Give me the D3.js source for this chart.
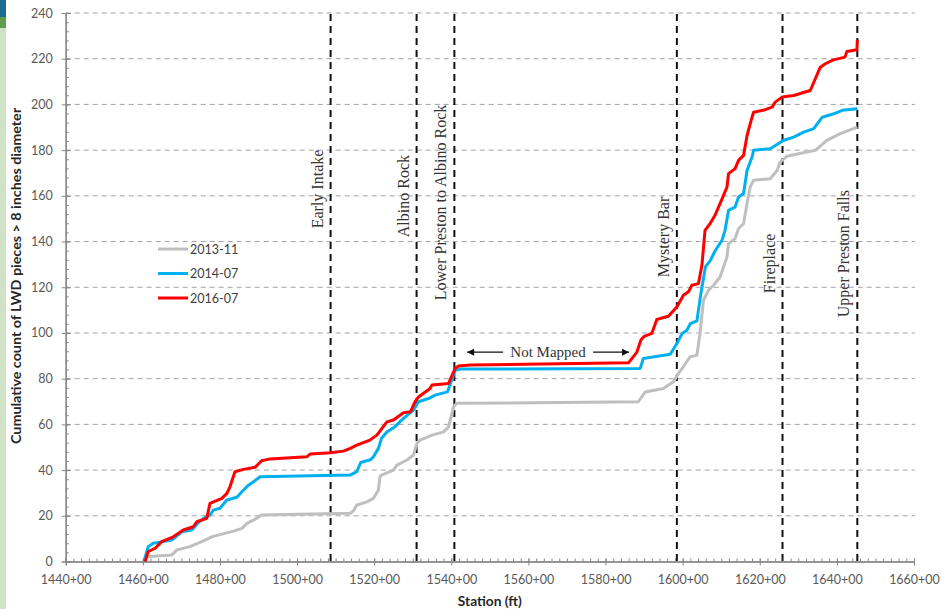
<!DOCTYPE html>
<html>
<head>
<meta charset="utf-8">
<script src="https://cdn.jsdelivr.net/npm/d3@7"></script>
<style>
  body { margin: 0; background: #fff; }
  svg { display: block; }
</style>
</head>
<body>
<svg id="chart" width="941" height="609"></svg>
<script>
// Cumulative LWD counts along the river, one survey per series
const seriesNames = ["2013-11", "2014-07", "2016-07"];
const seriesColors = ["#bfbfbf", "#00b0f0", "#ff0000"];

const stations2013 = [1460.3,1461.0,1467.5,1468.8,1472.2,1475.3,1477.9,1480.5,1483.5,1485.7,1487.0,1488.7,1490.8,1513.8,1514.6,1515.5,1518.1,1519.8,1521.1,1521.5,1521.9,1525.0,1525.9,1528.5,1530.2,1531.1,1531.9,1535.0,1538.0,1539.3,1540.6,1541.4,1588.5,1590.3,1595.0,1597.6,1598.9,1600.2,1601.9,1603.7,1604.5,1605.4,1606.7,1608.0,1609.7,1611.5,1611.9,1613.6,1614.5,1615.8,1616.7,1617.5,1618.4,1622.7,1624.5,1625.3,1627.0,1632.2,1634.4,1637.4,1640.9,1645.3];
const counts2013 = [0,2.1,2.8,5.0,6.5,8.7,10.8,12.0,13.3,14.5,16.7,18.1,20.3,21.1,22.1,24.7,26.1,27.6,31.3,37.1,37.8,40.0,42.2,44.4,46.6,51.7,53.1,55.3,56.7,58.9,67.7,69.2,69.9,74.2,75.7,78.6,82.3,85.2,89.5,90.3,99.8,114.3,118.7,120.9,124.5,133.2,139.1,141.3,145.7,147.8,156.6,163.8,166.8,167.5,171.1,174.8,177.3,179.2,179.9,184.3,187.2,190.1];

const stations2014 = [1460.3,1461.4,1462.7,1465.3,1467.5,1470.1,1472.7,1474.4,1476.1,1477.4,1478.3,1480.0,1481.8,1484.4,1485.7,1487.4,1488.7,1490.4,1513.8,1515.5,1516.5,1519.0,1519.8,1521.1,1521.9,1523.3,1525.4,1527.6,1530.2,1531.5,1534.1,1535.8,1539.0,1540.1,1541.0,1542.3,1589.0,1589.8,1596.8,1598.5,1599.9,1601.1,1602.0,1603.7,1604.6,1605.9,1607.2,1608.5,1610.2,1611.0,1611.9,1613.6,1614.5,1615.8,1616.7,1618.0,1618.4,1622.7,1626.2,1628.8,1631.4,1634.0,1636.2,1639.2,1641.4,1645.3];
const counts2014 = [0,6.5,8.0,8.7,9.4,13.0,13.8,17.0,19.3,20.3,22.5,23.3,26.9,28.1,30.5,33.4,34.9,37.1,37.8,39.3,43.3,44.5,45.8,49.5,53.9,56.7,59.0,62.6,66.2,69.9,71.3,72.8,74.2,79.3,83.7,84.2,84.5,88.8,90.7,95.4,99.8,101.2,104.1,105.3,115.8,128.9,131.8,136.2,140.5,144.9,153.7,155.1,159.5,161.0,171.1,177.0,179.9,180.6,184.3,185.7,187.9,189.4,194.4,195.9,197.4,198.1];

const stations2016 = [1460.6,1461.4,1463.2,1464.9,1467.9,1470.5,1473.1,1474.0,1476.6,1477.4,1480.5,1481.8,1482.6,1483.9,1486.1,1489.1,1490.8,1493.0,1502.5,1503.4,1508.6,1512.0,1513.8,1515.5,1518.9,1520.7,1523.3,1525.0,1527.6,1529.4,1530.6,1531.5,1534.5,1535.0,1539.3,1541.0,1541.8,1545.0,1586.0,1588.1,1589.2,1590.0,1592.0,1593.3,1596.3,1598.5,1600.2,1601.5,1602.4,1604.1,1605.0,1605.8,1607.1,1608.4,1609.7,1611.5,1611.9,1613.6,1614.5,1615.8,1616.7,1618.0,1618.4,1621.4,1623.2,1624.0,1625.8,1628.8,1633.1,1635.7,1637.0,1639.1,1642.1,1642.6,1645.2,1645.3];
const counts2016 = [0,4.3,5.8,8.7,10.8,13.8,15.2,17.4,18.9,25.4,27.6,29.8,32.7,39.3,40.3,41.2,44.1,44.9,45.8,47.0,47.6,48.3,49.5,50.9,53.1,55.3,61.1,61.9,65.1,65.5,69.9,72.0,75.7,77.2,77.9,84.5,85.5,86.0,87.0,91.5,97.0,98.5,99.8,105.9,107.3,111.4,116.5,118.0,120.9,121.6,129.6,144.9,147.8,151.5,156.6,163.8,169.7,171.9,175.5,177.7,186.4,194.4,196.6,197.7,198.8,201.0,203.2,203.9,206.1,216.3,217.8,219.5,220.7,223.2,223.9,228.3];

// Axis ticks
const xTicks = d3.range(1440, 1661, 20);
const xMinorTicks = d3.range(1440, 1661, 2);
const yTicks = d3.range(0, 241, 20);
const yMinorTicks = d3.range(0, 241, 4);

// Named reaches marked along the river, with where each name starts (count units)
const markerNames = ["Early Intake", "Albino Rock", "Lower Preston to Albino Rock", "Mystery Bar", "Fireplace", "Upper Preston Falls"];
const markerStations = [1508.7, 1531.0, 1540.8, 1598.5, 1625.9, 1645.3];
const markerLabelStart = [145.8, 141.9, 114.3, 124.4, 117.4, 106.9];

// Unmapped stretch
const gapLabel = "Not Mapped";
const gapStart = 1544.1, gapEnd = 1586.1, gapLevel = 91.6;

const svg = d3.select("#chart");

// Slide edge decoration
svg.append("rect").attr("x", 0).attr("y", 0).attr("width", 6).attr("height", 609).attr("fill", "#cfe2c6");
svg.append("rect").attr("x", 0).attr("y", 0).attr("width", 6).attr("height", 17).attr("fill", "#1d6b93");
svg.append("rect").attr("x", 0).attr("y", 17).attr("width", 6).attr("height", 11).attr("fill", "#5d9f4c");

const x = d3.scaleLinear().domain([1440, 1660]).range([65.7, 914]);
const y = d3.scaleLinear().domain([0, 240]).range([561.5, 13]);

const labelFont = "Lato, 'Open Sans', sans-serif";
const serifFont = "'Liberation Serif', 'DejaVu Serif', serif";

// Horizontal grid
svg.append("g")
  .selectAll("line")
  .data(yTicks.filter(d => d > 0))
  .join("line")
  .attr("x1", x(1440)).attr("x2", x(1660) + 1)
  .attr("y1", d => y(d)).attr("y2", d => y(d))
  .attr("stroke", "#a3a3a3").attr("stroke-width", 1)
  .attr("stroke-dasharray", "5,4");

// Reach markers
svg.append("g")
  .selectAll("line")
  .data(markerStations)
  .join("line")
  .attr("x1", d => x(d)).attr("x2", d => x(d))
  .attr("y1", y(240) + 1).attr("y2", y(0))
  .attr("stroke", "#111").attr("stroke-width", 2)
  .attr("stroke-dasharray", "7,5");

svg.append("g")
  .selectAll("text")
  .data(markerNames)
  .join("text")
  .attr("transform", (d, i) => `translate(${x(markerStations[i]) - 8},${y(markerLabelStart[i])}) rotate(-90)`)
  .attr("font-family", serifFont)
  .attr("font-size", 16)
  .attr("fill", "#333")
  .text(d => d);

// Axes
const xAxisG = svg.append("g").attr("transform", `translate(0,${y(0)})`);
xAxisG.call(d3.axisBottom(x).tickValues(xMinorTicks).tickSize(-3).tickFormat(""));
xAxisG.append("g").call(d3.axisBottom(x).tickValues(xTicks).tickSize(4).tickPadding(10)
  .tickFormat(d => `${d}+00`));
xAxisG.append("g").call(d3.axisTop(x).tickValues(xTicks).tickSize(3).tickFormat(""));

const yAxisG = svg.append("g").attr("transform", `translate(${x(1440)},0)`);
yAxisG.call(d3.axisRight(y).tickValues(yMinorTicks).tickSize(3).tickFormat(""));
yAxisG.append("g").call(d3.axisLeft(y).tickValues(yTicks).tickSize(4).tickPadding(9));
yAxisG.append("g").call(d3.axisRight(y).tickValues(yTicks).tickSize(5).tickFormat(""));

svg.selectAll(".domain").attr("stroke", "#868686");
svg.selectAll(".tick line").attr("stroke", "#868686");
svg.selectAll(".tick text")
  .attr("font-family", labelFont)
  .attr("font-size", 12.5)
  .attr("fill", "#595959");

// Series
const seriesData = [
  d3.zip(stations2013, counts2013),
  d3.zip(stations2014, counts2014),
  d3.zip(stations2016, counts2016)
];
const line = d3.line().x(d => x(d[0])).y(d => y(d[1]));
svg.append("g")
  .selectAll("path")
  .data(seriesData)
  .join("path")
  .attr("d", line)
  .attr("fill", "none")
  .attr("stroke", (d, i) => seriesColors[i])
  .attr("stroke-width", 3)
  .attr("stroke-linejoin", "round");

// Not Mapped annotation
const defs = svg.append("defs");
defs.append("marker")
  .attr("id", "arrowhead")
  .attr("viewBox", "0 0 10 10")
  .attr("refX", 10).attr("refY", 5)
  .attr("markerWidth", 10).attr("markerHeight", 7)
  .attr("markerUnits", "userSpaceOnUse")
  .attr("orient", "auto")
  .append("path").attr("d", "M0,0 L10,5 L0,10 Z").attr("fill", "#111");

const gapMid = (gapStart + gapEnd) / 2;
svg.append("line")
  .attr("x1", x(gapMid) - 45).attr("x2", x(gapStart))
  .attr("y1", y(gapLevel)).attr("y2", y(gapLevel))
  .attr("stroke", "#111").attr("stroke-width", 1.3)
  .attr("marker-end", "url(#arrowhead)");
svg.append("line")
  .attr("x1", x(gapMid) + 45).attr("x2", x(gapEnd))
  .attr("y1", y(gapLevel)).attr("y2", y(gapLevel))
  .attr("stroke", "#111").attr("stroke-width", 1.3)
  .attr("marker-end", "url(#arrowhead)");
svg.append("text")
  .attr("x", x(gapMid)).attr("y", y(gapLevel) + 5)
  .attr("text-anchor", "middle")
  .attr("font-family", serifFont)
  .attr("font-size", 15)
  .attr("fill", "#333")
  .text(gapLabel);

// Legend
const legend = svg.append("g").attr("transform", "translate(158,249)");
seriesNames.forEach((name, i) => {
  const g = legend.append("g").attr("transform", `translate(0,${i * 24.5})`);
  g.append("line").attr("x1", 0).attr("x2", 30).attr("y1", 0).attr("y2", 0)
    .attr("stroke", seriesColors[i]).attr("stroke-width", 3);
  g.append("text").attr("x", 32).attr("y", 4.5)
    .attr("font-family", labelFont).attr("font-size", 12.5).attr("fill", "#404040")
    .text(name);
});

// Axis titles
svg.append("text")
  .attr("transform", `translate(21,276) rotate(-90)`)
  .attr("text-anchor", "middle")
  .attr("font-family", labelFont)
  .attr("font-weight", "bold")
  .attr("font-size", 12.5)
  .attr("fill", "#262626")
  .attr("textLength", 336)
  .attr("lengthAdjust", "spacingAndGlyphs")
  .text("Cumulative count of LWD pieces > 8 inches diameter");

svg.append("text")
  .attr("x", (x(1440) + x(1660)) / 2)
  .attr("y", 606)
  .attr("text-anchor", "middle")
  .attr("font-family", labelFont)
  .attr("font-weight", "bold")
  .attr("font-size", 13)
  .attr("fill", "#262626")
  .attr("textLength", 64)
  .attr("lengthAdjust", "spacingAndGlyphs")
  .text("Station (ft)");
</script>
</body>
</html>
